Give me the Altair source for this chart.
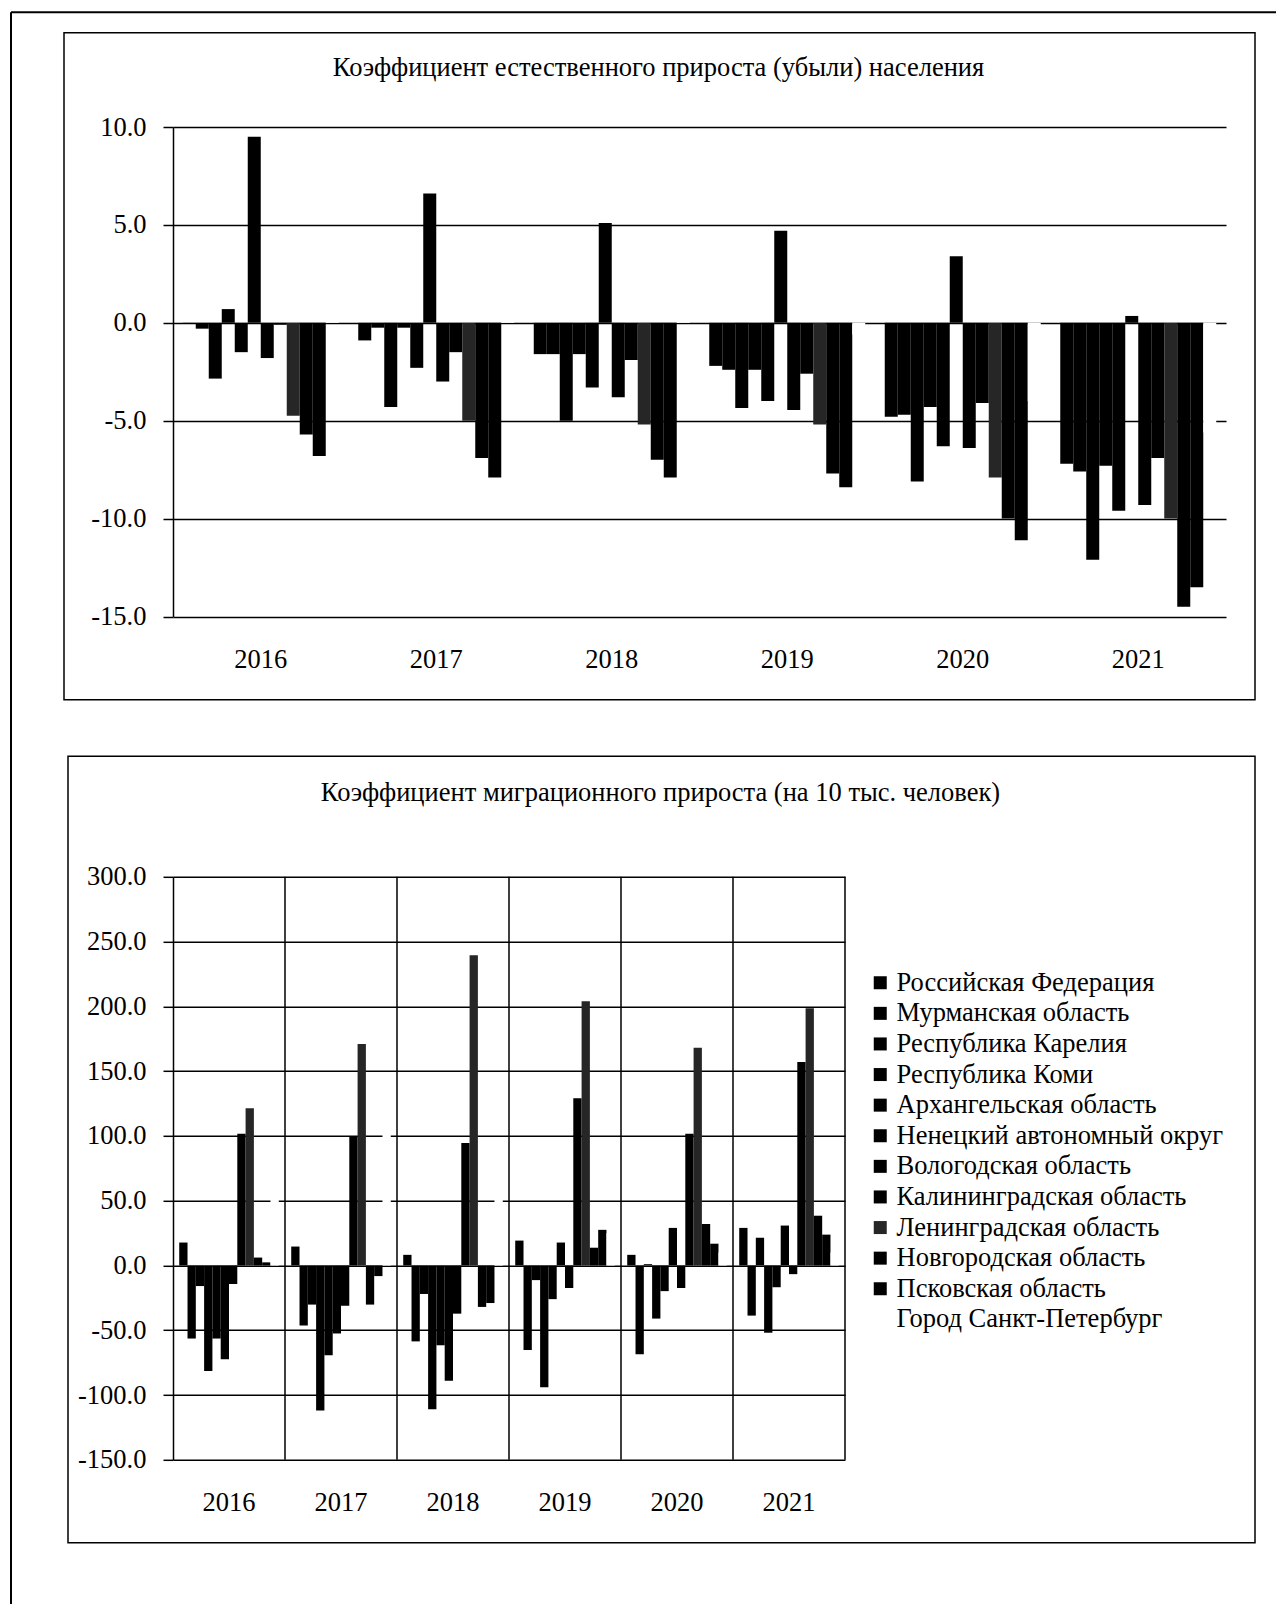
import altair as alt
import pandas as pd

FONT = "Liberation Serif"

years = ["2016", "2017", "2018", "2019", "2020", "2021"]
regions = [
    "Российская Федерация",
    "\u00a0Мурманская область",
    "Республика Карелия",
    "Республика Коми",
    "Архангельская область",
    "Ненецкий автономный округ",
    "Вологодская область",
    "Калининградская область",
    "Ленинградская область",
    "Новгородская область",
    "Псковская область",
    "Город Санкт-Петербург",
]
colors = ["#000000", "#000000", "#000000", "#000000", "#000000", "#000000",
          "#000000", "#000000", "#262626", "#000000", "#000000", "#ffffff"]

# Natural increase (per 1000), 2016..2021
nat_rf = [-0.01, -0.9, -1.6, -2.2, -4.8, -7.2]
nat_murm = [-0.3, -0.25, -1.6, -2.4, -4.7, -7.6]
nat_kar = [-2.85, -4.3, -5.0, -4.35, -8.1, -12.1]
nat_komi = [0.7, -0.25, -1.6, -2.4, -4.3, -7.3]
nat_arkh = [-1.5, -2.3, -3.3, -4.0, -6.3, -9.6]
nat_nao = [9.5, 6.6, 5.1, 4.7, 3.4, 0.35]
nat_vol = [-1.8, -3.0, -3.8, -4.45, -6.4, -9.3]
nat_kal = [-0.1, -1.5, -1.9, -2.6, -4.1, -6.9]
nat_len = [-4.75, -5.0, -5.2, -5.2, -7.9, -10.0]
nat_nov = [-5.7, -6.9, -7.0, -7.7, -10.0, -14.5]
nat_psk = [-6.8, -7.9, -7.9, -8.4, -11.1, -13.5]
nat_spb = [1.8, 1.0, 0.2, -0.6, -4.0, -5.6]

# Migration increase (per 10 000), 2016..2021
mig_rf = [17.7, 14.6, 8.2, 19.2, 8.2, 29.0]
mig_murm = [-56.4, -46.4, -58.6, -65.3, -68.6, -38.7]
mig_kar = [-15.9, -30.2, -22.0, -11.3, 1.0, 21.4]
mig_komi = [-81.5, -112.0, -111.0, -94.0, -41.0, -51.9]
mig_arkh = [-56.4, -69.3, -61.6, -26.0, -19.8, -16.8]
mig_nao = [-72.3, -52.5, -89.0, 17.7, 29.0, 30.8]
mig_vol = [-14.3, -31.1, -37.2, -17.4, -17.4, -6.7]
mig_kal = [101.6, 100.0, 94.6, 129.0, 101.6, 157.0]
mig_len = [121.4, 171.0, 239.5, 204.0, 168.0, 198.6]
mig_nov = [6.1, -30.2, -32.0, 13.7, 32.0, 38.4]
mig_psk = [2.4, -8.2, -29.0, 27.5, 16.8, 23.8]
mig_spb = [85.0, 120.0, 75.0, 25.0, 10.0, 10.0]

natural = [nat_rf, nat_murm, nat_kar, nat_komi, nat_arkh, nat_nao,
           nat_vol, nat_kal, nat_len, nat_nov, nat_psk, nat_spb]
migration = [mig_rf, mig_murm, mig_kar, mig_komi, mig_arkh, mig_nao,
             mig_vol, mig_kal, mig_len, mig_nov, mig_psk, mig_spb]

title_top = "Коэффициент естественного прироста (убыли) населения"
title_bot = "Коэффициент миграционного прироста (на 10 тыс. человек)"
ticks_top = [-15, -10, -5, 0, 5, 10]
ticks_bot = [-150, -100, -50, 0, 50, 100, 150, 200, 250, 300]


def to_long(table):
    rows = []
    for r, vals in zip(regions, table):
        for y, v in zip(years, vals):
            rows.append({"year": y, "region": r, "value": v})
    return pd.DataFrame(rows)


df_nat = to_long(natural)
df_mig = to_long(migration)
one = pd.DataFrame({"k": [0]})

W1, H1 = 1053, 489.5
W2, H2 = 672, 583

LABEL_EXPR = "replace(format(datum.value, '.1f'), '\u2212', '-')"


def y_axis(vals):
    return alt.Axis(values=vals, labelExpr=LABEL_EXPR, title=None, grid=True,
                    gridColor="black", gridWidth=1.5, gridOpacity=1,
                    domainColor="black", domainWidth=1.5,
                    tickColor="black", tickWidth=1.5, tickSize=10,
                    labelPadding=17, labelFont=FONT, labelFontSize=26.5,
                    labelColor="black")


x_axis = alt.Axis(title=None, domain=False, ticks=False, grid=False,
                  labelAngle=0, labelFont=FONT, labelFontSize=26.5,
                  labelColor="black", labelPadding=43, labelBaseline="middle")


def rule(x, x2, y, y2, w=2):
    return alt.Chart(one).mark_rule(color="black", strokeWidth=w).encode(
        x=alt.value(x), x2=alt.value(x2), y=alt.value(y), y2=alt.value(y2))


def frame(x, x2, y, y2):
    return alt.Chart(one).mark_rect(fill="white", fillOpacity=0, stroke="black",
                                    strokeWidth=1.5).encode(
        x=alt.value(x), x2=alt.value(x2), y=alt.value(y), y2=alt.value(y2))


def label(text, x, y):
    return alt.Chart(one).mark_text(text=text, font=FONT, fontSize=26.5,
                                    align="center", baseline="middle",
                                    color="black").encode(
        x=alt.value(x), y=alt.value(y))


# ---------- top chart ----------
bars1 = alt.Chart(df_nat).mark_bar().encode(
    x=alt.X("year:N", sort=years,
            scale=alt.Scale(paddingInner=0, paddingOuter=0), axis=x_axis),
    xOffset=alt.XOffset("region:N", sort=regions,
                        scale=alt.Scale(paddingInner=0, paddingOuter=0.75)),
    y=alt.Y("value:Q", stack=False,
            scale=alt.Scale(domain=[-15, 10], nice=False), axis=y_axis(ticks_top)),
    color=alt.Color("region:N", sort=regions,
                    scale=alt.Scale(domain=regions, range=colors), legend=None),
)

top = alt.layer(
    rule(-162, 1103, -114.7, -114.7),
    rule(-162, -162, -114.7, 1477),
    frame(-109, 1082, -94.2, 572.8),
    label(title_top, 485.5, -58.7),
    bars1,
).properties(width=W1, height=H1)

# ---------- bottom chart ----------
bars2 = alt.Chart(df_mig).mark_bar().encode(
    x=alt.X("year:N", sort=years,
            scale=alt.Scale(paddingInner=0, paddingOuter=0), axis=x_axis),
    xOffset=alt.XOffset("region:N", sort=regions,
                        scale=alt.Scale(paddingInner=0, paddingOuter=0.75)),
    y=alt.Y("value:Q", stack=False,
            scale=alt.Scale(domain=[-150, 300], nice=False), axis=y_axis(ticks_bot)),
    color=alt.Color("region:N", sort=regions,
                    scale=alt.Scale(domain=regions, range=colors),
                    legend=alt.Legend(title=None, orient="none", legendX=694,
                                      legendY=92.7, padding=0,
                                      symbolType="square", symbolSize=169,
                                      symbolStrokeWidth=0, labelFont=FONT,
                                      labelFontSize=26.5, labelColor="black",
                                      labelOffset=3, rowPadding=3.6,
                                      labelLimit=0)),
)

vlines = alt.Chart(pd.DataFrame({"year": years[1:]})).mark_rule(
    color="black", strokeWidth=1.5).encode(
    x=alt.X("year:N", sort=years, bandPosition=0, axis=x_axis),
    y=alt.value(0), y2=alt.value(H2))

bottom = alt.layer(
    frame(-105, 1082, -120.5, 666),
    label(title_bot, 487.5, -83.6),
    bars2,
    vlines,
    rule(W2, W2, 0, H2, 1.5),
).properties(width=W2, height=H2)

chart = alt.vconcat(top, bottom, spacing=259.8, bounds="flush").resolve_scale(
    x="independent", y="independent", color="independent",
    xOffset="independent",
).properties(
    padding={"left": 2, "top": 3, "right": 0, "bottom": 0}
).configure_view(strokeWidth=0)

chart.save("out.html", embed_options={"renderer": "svg", "actions": False})
